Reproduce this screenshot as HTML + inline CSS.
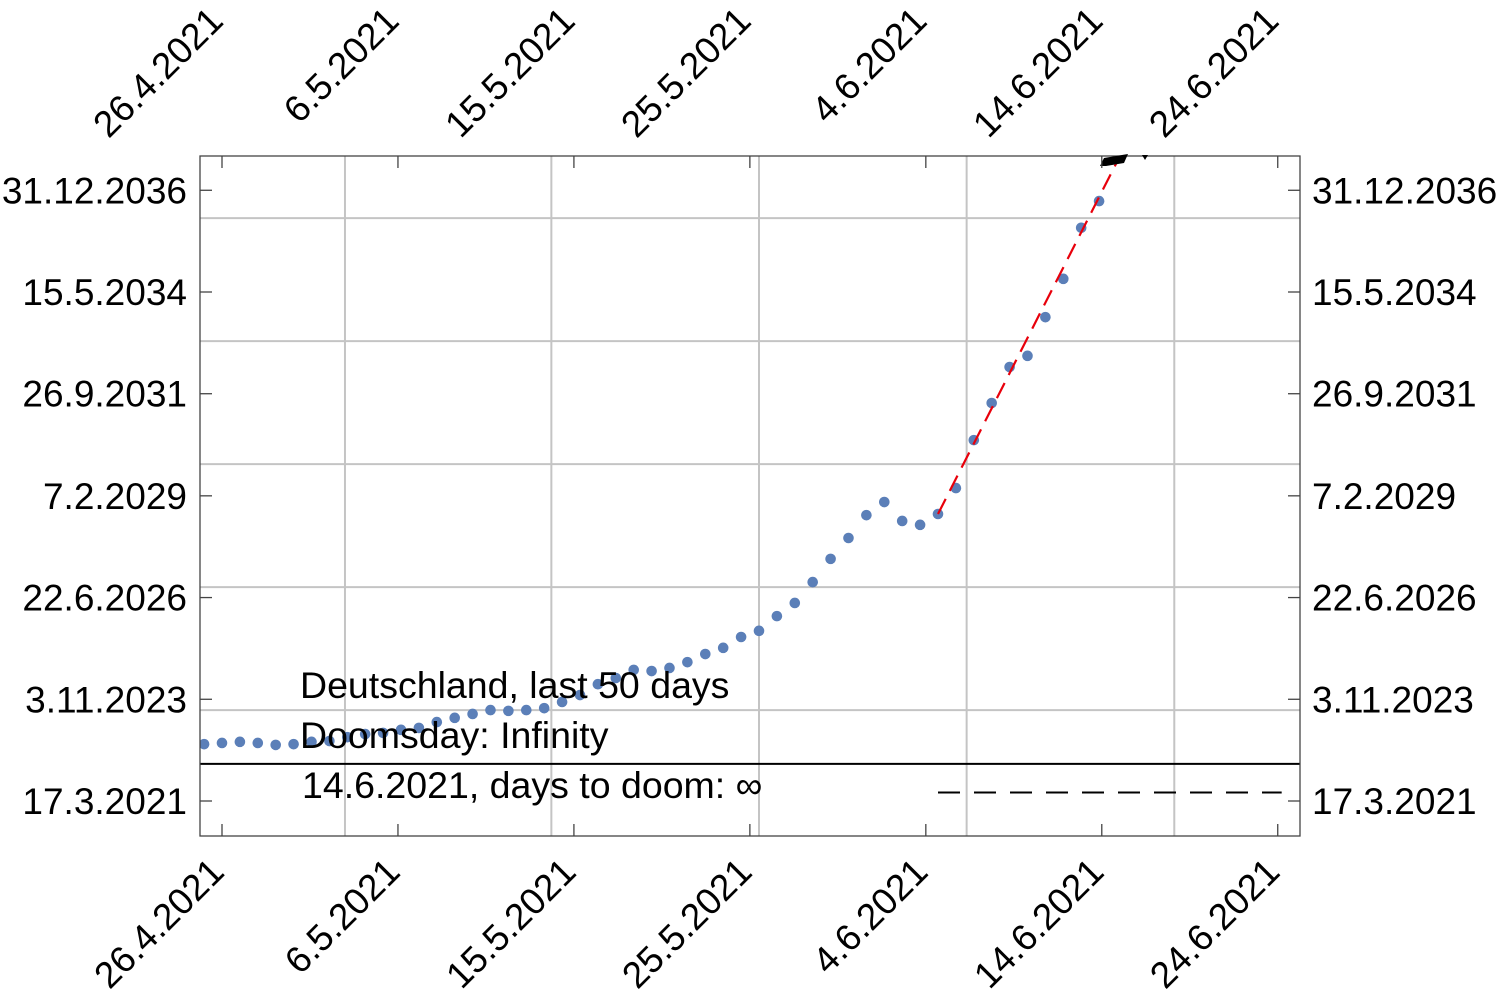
<!DOCTYPE html>
<html><head><meta charset="utf-8"><style>
html,body{margin:0;padding:0;background:#fff;}
svg{display:block;font-family:"Liberation Sans",Arial,sans-serif;}
</style></head><body>
<svg id="chart" width="1500" height="996" viewBox="0 0 1500 996">
<defs><clipPath id="clip"><rect x="200" y="156" width="1100" height="680"/></clipPath></defs>
<g id="grid"></g>
<g id="marks" clip-path="url(#clip)"></g>
<rect x="200" y="156" width="1100" height="680" fill="none" stroke="#444" stroke-width="1.3"/>
<g id="axes"></g>
<g font-size="37.5" fill="#000">
<text x="300" y="698">Deutschland, last 50 days</text>
<text x="300" y="748">Doomsday: Infinity</text>
<text x="302" y="798">14.6.2021, days to doom: ∞</text>
</g>
</svg>
<script>
const dayValues = [2022.68,2022.71,2022.74,2022.71,2022.66,2022.68,2022.74,2022.76,2022.86,2022.94,2022.97,2023.05,2023.10,2023.25,2023.36,2023.46,2023.56,2023.54,2023.56,2023.61,2023.77,2023.95,2024.23,2024.39,2024.60,2024.57,2024.65,2024.80,2025.01,2025.17,2025.45,2025.61,2025.99,2026.33,2026.87,2027.47,2028.01,2028.60,2028.94,2028.45,2028.35,2028.63,2029.30,2030.54,2031.50,2032.43,2032.72,2033.72,2034.71,2036.03,2036.72];
const firstDay = -1;
const xTickDays = [0,9.83,19.66,29.49,39.32,49.15,58.98];
const xTickLabels = ["26.4.2021","6.5.2021","15.5.2021","25.5.2021","4.6.2021","14.6.2021","24.6.2021"];
const yTickValues = [2021.21,2023.84,2026.47,2029.10,2031.74,2034.37,2037.00];
const yTickLabels = ["17.3.2021","3.11.2023","22.6.2026","7.2.2029","26.9.2031","15.5.2034","31.12.2036"];
const xGridDays = [6.87,18.4,30.0,41.6,53.2];
const yGridValues = [2023.56,2026.74,2029.92,2033.10,2036.28];
const baselineValue = 2022.17;
const fitStart = [40, 2028.63];
const fitEnd = [50.17, 2037.89];
const dashedLevel = 2021.43;
const dashedRange = [40, 59.2];

const X = d => 222 + d*17.9;
const Y = v => 801 - (v-2021.21)*101.8/2.632;
const NS="http://www.w3.org/2000/svg";
function mk(tag, attrs, parent){const e=document.createElementNS(NS,tag);for(const k in attrs)e.setAttribute(k,attrs[k]);parent.appendChild(e);return e;}
const grid=document.getElementById('grid'), marks=document.getElementById('marks'), axes=document.getElementById('axes');

xGridDays.forEach(d=>{const l=mk('line',{x1:X(d),x2:X(d),y1:156,y2:836,stroke:'#c4c4c4','stroke-width':2},grid);

});
yGridValues.forEach(v=>{const l=mk('line',{x1:200,x2:1300,y1:Y(v),y2:Y(v),stroke:'#c4c4c4','stroke-width':2},grid);

});
const bl=mk('line',{x1:200,x2:1300,y1:Y(baselineValue),y2:Y(baselineValue),stroke:'#000','stroke-width':2},grid);



dayValues.forEach((v,i)=>{const c=mk('circle',{cx:X(firstDay+i),cy:Y(v),r:5.3,fill:'#5b7fb8'},marks);

});

const fit=mk('line',{x1:X(fitStart[0]),y1:Y(fitStart[1]),x2:X(fitEnd[0]),y2:Y(fitEnd[1]),stroke:'#e8000b','stroke-width':2.2,'stroke-dasharray':'17,9'},marks);


const dl=mk('line',{x1:X(dashedRange[0]),x2:X(dashedRange[1]),y1:Y(dashedLevel),y2:Y(dashedLevel),stroke:'#000','stroke-width':2,'stroke-dasharray':'22,14'},marks);


const sc=mk('path',{d:'M1100,166 L1104,158 L1128,154 L1124,163 L1106,166 Z M1142,155 L1148,155 L1145,160 Z',fill:'#000'},axes);



xTickDays.forEach((d,i)=>{const x=X(d);
const t1=mk('line',{x1:x,x2:x,y1:156,y2:168,stroke:'#444','stroke-width':1.3},axes);


const t2=mk('line',{x1:x,x2:x,y1:824,y2:836,stroke:'#444','stroke-width':1.3},axes);


const a=mk('text',{x:0,y:0,'font-size':37,'text-anchor':'end',transform:`translate(${x+3},${23}) rotate(-45)`},axes);a.textContent=xTickLabels[i];


const b=mk('text',{x:0,y:0,'font-size':37,'text-anchor':'end',transform:`translate(${x+4},${874}) rotate(-45)`},axes);b.textContent=xTickLabels[i];

});
yTickValues.forEach((v,i)=>{const y=Y(v);
const t1=mk('line',{x1:200,x2:212,y1:y,y2:y,stroke:'#444','stroke-width':1.3},axes);


const t2=mk('line',{x1:1288,x2:1300,y1:y,y2:y,stroke:'#444','stroke-width':1.3},axes);


const a=mk('text',{x:187,y:y+13,'font-size':37,'text-anchor':'end'},axes);a.textContent=yTickLabels[i];


const b=mk('text',{x:1312,y:y+13,'font-size':37,'text-anchor':'start'},axes);b.textContent=yTickLabels[i];

});
</script>
</body></html>
